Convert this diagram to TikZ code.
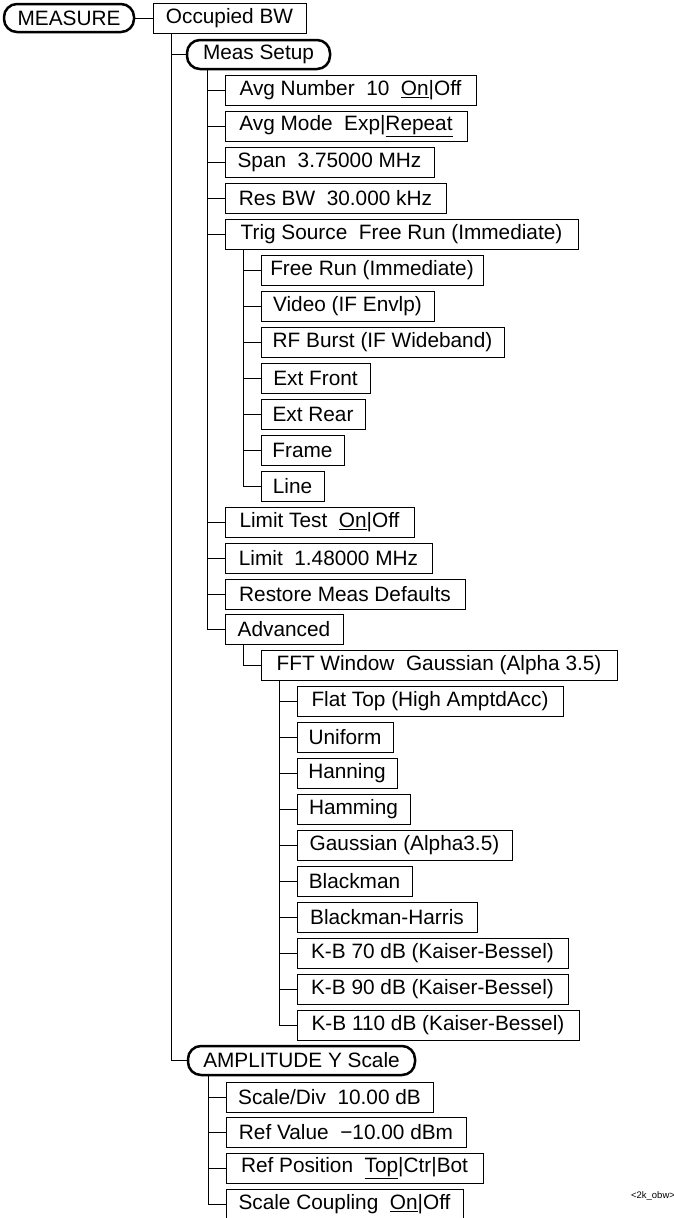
\documentclass[tikz,border=0pt]{standalone}
\usepackage{fontspec}
\setmainfont{Liberation Sans}
\usetikzlibrary{positioning}
\tikzset{
	menukey/.style={draw, line width=1pt, inner sep=0pt, outer sep=0pt,
		minimum height=30pt, anchor=north west},
	hardkey/.style={draw, line width=2.5pt, rounded corners=13pt, inner sep=0pt,
		outer sep=0pt, minimum height=28pt, anchor=north west},
	branch/.style={draw=black, line width=1pt},
	tagtext/.style={font=\fontsize{9.5}{11}\selectfont, inner sep=0pt},
}

\begin{document}
\begin{tikzpicture}[x=1pt,y=-1pt,font=\fontsize{20.8}{25}\selectfont]
\useasboundingbox (0,0) rectangle (673,1218);

\node[hardkey, minimum width=130] (measure) at (4,4) {MEASURE};
\node[menukey, minimum width=153] (occ) at (153,3) {Occupied BW};
\node[hardkey, minimum width=143, minimum height=29] (meas) at (187,40) {Meas Setup};

\node[menukey, minimum width=251] (avgnum) at (225,75) {Avg Number~~10~~\underline{On}|Off};
\node[menukey, minimum width=242] (avgmode) at (225,111) {Avg Mode~~Exp|\underline{Repeat}};
\node[menukey, minimum width=209] (span) at (225,147) {Span~~3.75000 MHz};
\node[menukey, minimum width=221] (resbw) at (225,183) {Res BW~~30.000 kHz};
\node[menukey, minimum width=353] (trig) at (225,219) {Trig Source~~Free Run (Immediate)};

\node[menukey, minimum width=222] (freerun) at (261,255) {Free Run (Immediate)};
\node[menukey, minimum width=173] (video) at (261,291) {Video (IF Envlp)};
\node[menukey, minimum width=243] (rfburst) at (261,327) {RF Burst (IF Wideband)};
\node[menukey, minimum width=109] (extfront) at (261,363) {Ext Front};
\node[menukey, minimum width=104] (extrear) at (261,399) {Ext Rear};
\node[menukey, minimum width=83] (frame) at (261,435) {Frame};
\node[menukey, minimum width=63] (trigline) at (261,471) {Line};

\node[menukey, minimum width=189] (limtest) at (225,507) {Limit Test~~\underline{On}|Off};
\node[menukey, minimum width=207] (limit) at (225,543) {Limit~~1.48000 MHz};
\node[menukey, minimum width=240] (restore) at (225,579) {Restore Meas Defaults};
\node[menukey, minimum width=118] (advanced) at (225,614) {Advanced};
\node[menukey, minimum width=356] (fft) at (261,650) {FFT Window~~Gaussian (Alpha 3.5)};

\node[menukey, minimum width=266] (flattop) at (297,686) {Flat Top (High AmptdAcc)};
\node[menukey, minimum width=96] (uniform) at (297,722) {Uniform};
\node[menukey, minimum width=100] (hanning) at (297,758) {Hanning};
\node[menukey, minimum width=113] (hamming) at (297,794) {Hamming};
\node[menukey, minimum width=215] (gaussian) at (297,830) {Gaussian (Alpha3.5)};
\node[menukey, minimum width=115] (blackman) at (297,866) {Blackman};
\node[menukey, minimum width=180] (bharris) at (297,902) {Blackman-Harris};
\node[menukey, minimum width=271] (kb70) at (297,938) {K-B 70 dB (Kaiser-Bessel)};
\node[menukey, minimum width=271] (kb90) at (297,974) {K-B 90 dB (Kaiser-Bessel)};
\node[menukey, minimum width=282] (kb110) at (297,1010) {K-B 110 dB (Kaiser-Bessel)};

\node[hardkey, minimum width=227, minimum height=29] (amp) at (188,1046) {AMPLITUDE Y Scale};
\node[menukey, minimum width=207] (scalediv) at (226,1082) {Scale/Div~~10.00 dB};
\node[menukey, minimum width=240] (refval) at (226,1117) {Ref Value~~−10.00 dBm};
\node[menukey, minimum width=257] (refpos) at (226,1153) {Ref Position~~\underline{Top}|Ctr|Bot};
\node[menukey, minimum width=237] (coupling) at (226,1189) {Scale Coupling~~\underline{On}|Off};

\node[tagtext] (tag) at (653,1196) {<2k\_obw>};

% tree branches
\draw[branch] (measure.east) -- (occ.west);
\foreach \k in {meas,amp}
	\draw[branch] ([xshift=18pt]occ.south west) |- (\k.west);
\foreach \k in {avgnum,avgmode,span,resbw,trig,limtest,limit,restore,advanced}
	\draw[branch] ([xshift=20pt]meas.south west) |- (\k.west);
\foreach \k in {freerun,video,rfburst,extfront,extrear,frame,trigline}
	\draw[branch] ([xshift=18pt]trig.south west) |- (\k.west);
\draw[branch] ([xshift=18pt]advanced.south west) |- (fft.west);
\foreach \k in {flattop,uniform,hanning,hamming,gaussian,blackman,bharris,kb70,kb90,kb110}
	\draw[branch] ([xshift=18pt]fft.south west) |- (\k.west);
\foreach \k in {scalediv,refval,refpos,coupling}
	\draw[branch] ([xshift=20pt]amp.south west) |- (\k.west);

\end{tikzpicture}
\end{document}
